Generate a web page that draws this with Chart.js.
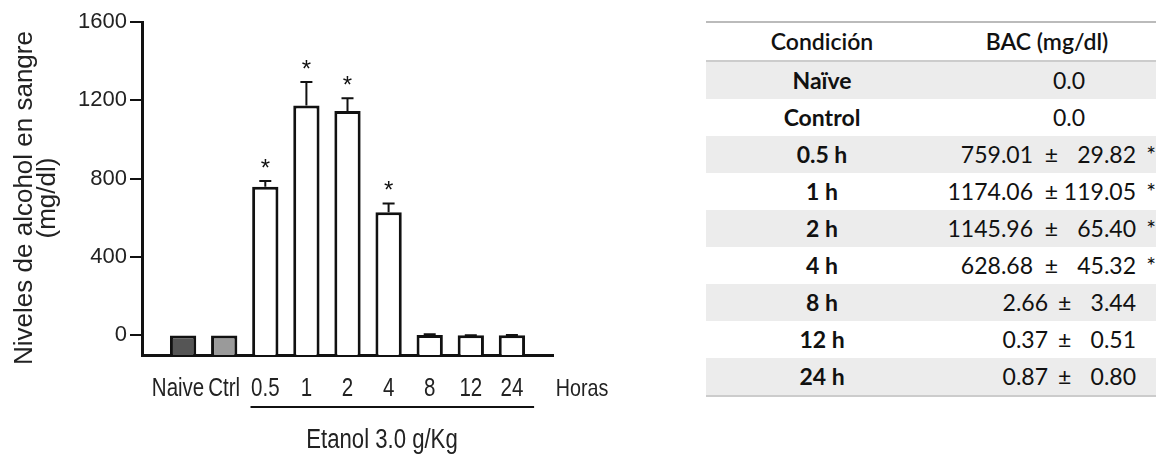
<!DOCTYPE html>
<html>
<head>
<meta charset="utf-8">
<script src="https://cdn.jsdelivr.net/npm/chart.js@4.4.1/dist/chart.umd.min.js"></script>
<style>
  body { margin: 0; background: #fff; width: 1156px; height: 456px; overflow: hidden; position: relative; }
  #wrap { position: absolute; left: 0; top: 0; width: 640px; height: 456px; }
  #tabla { position: absolute; left: 706px; top: 21px; width: 450px; border-collapse: collapse;
           font-family: Lato, "Open Sans", sans-serif; font-size: 23px; color: #111; }
  #tabla th, #tabla td { height: 37px; padding: 0; line-height: 37px; }
  #tabla thead tr { border-top: 2px solid #bbb; border-bottom: 2px solid #ccc; }
  #tabla tbody tr:last-child { border-bottom: 2px solid #ccc; }
  #tabla tbody tr:nth-child(odd) { background: #ececec; }
  #tabla th { font-weight: 600; }
  #tabla .cond { width: 232px; text-align: center; font-weight: 700; }
  #tabla .val { position: relative; }
  #tabla .val span { position: absolute; top: 0; white-space: pre; }
</style>
</head>
<body>
<div id="wrap"><canvas id="grafiek"></canvas></div>
<table id="tabla">
  <thead><tr><th>Condición</th><th>BAC (mg/dl)</th></tr></thead>
  <tbody></tbody>
</table>
<script>
// Gegevens uit de figuur
const categorieen = ['Naive', 'Ctrl', '0.5', '1', '2', '4', '8', '12', '24'];
const condiciones = ['Naïve', 'Control', '0.5 h', '1 h', '2 h', '4 h', '8 h', '12 h', '24 h'];
const gemiddelden = [0, 0, 759.01, 1174.06, 1145.96, 628.68, 2.66, 0.37, 0.87];
const sem = [null, null, 29.82, 119.05, 65.40, 45.32, 3.44, 0.51, 0.80];
const significant = [false, false, true, true, true, true, false, false, false];
const yTicks = [0, 400, 800, 1200, 1600];

const vulkleuren = ['#555555', '#9a9a9a', '#ffffff', '#ffffff', '#ffffff', '#ffffff', '#ffffff', '#ffffff', '#ffffff'];
const fontNaam = '"Liberation Sans", Arial, sans-serif';
const smal = 0.82; // horizontale compressie voor Arial Narrow-look

// Tabel opbouwen
const tbody = document.querySelector('#tabla tbody');
condiciones.forEach(function(c, i) {
    const tr = document.createElement('tr');
    const td1 = document.createElement('td');
    td1.className = 'cond';
    td1.textContent = c;
    const td2 = document.createElement('td');
    td2.className = 'val';
    if (sem[i] === null) {
        td2.innerHTML = '<span style="left:131px;transform:translateX(-50%)">' + gemiddelden[i].toFixed(1) + '</span>';
    } else {
        const breedte = significant[i] ? 6 : 5;
        const s = sem[i].toFixed(2).padStart(breedte, '\u2007');
        const rechts = significant[i] ? 123 : 108;
        let html = '<span style="right:' + rechts + 'px">' + gemiddelden[i].toFixed(2) + '</span>';
        html += '<span style="right:20px">± ' + s + '</span>';
        if (significant[i]) html += '<span style="right:0px">*</span>';
        td2.innerHTML = html;
    }
    tr.appendChild(td1);
    tr.appendChild(td2);
    tbody.appendChild(tr);
});

// smalle (Arial Narrow-achtige) tekst
function smalleTekst(ctx, tekst, x, y, grootte) {
    ctx.save();
    ctx.translate(x, y);
    ctx.scale(smal, 1);
    ctx.font = grootte + 'px ' + fontNaam;
    ctx.textAlign = 'center';
    ctx.textBaseline = 'middle';
    ctx.fillText(tekst, 0, 0);
    ctx.restore();
}

// Extra tekens: foutbalken, sterretjes, labels, titels
const extraPlugin = {
    id: 'extra',
    afterDatasetsDraw(chart) {
        const ctx = chart.ctx;
        const x = chart.scales.x;
        const y = chart.scales.y;
        ctx.save();
        ctx.strokeStyle = '#111';
        ctx.fillStyle = '#111';
        ctx.lineWidth = 2;
        for (let i = 0; i < gemiddelden.length; i++) {
            if (sem[i] === null) continue;
            const px = x.getPixelForValue(i + 1);
            const yBar = y.getPixelForValue(gemiddelden[i]);
            const yTop = y.getPixelForValue(gemiddelden[i] + sem[i]);
            ctx.beginPath();
            ctx.moveTo(px, yBar);
            ctx.lineTo(px, yTop);
            ctx.moveTo(px - 6, yTop);
            ctx.lineTo(px + 6, yTop);
            ctx.stroke();
            if (significant[i]) {
                ctx.font = '24px ' + fontNaam;
                ctx.textAlign = 'center';
                ctx.textBaseline = 'alphabetic';
                ctx.fillText('*', px, yTop - 5);
            }
        }
        // categorie-labels onder de as; schuif naar links als ze overlappen
        ctx.fillStyle = '#222';
        ctx.font = '25px ' + fontNaam;
        const breedtes = categorieen.map(c => ctx.measureText(c).width * smal);
        const midden = categorieen.map((c, i) => x.getPixelForValue(i + 1));
        for (let i = categorieen.length - 2; i >= 0; i--) {
            const grens = midden[i + 1] - breedtes[i + 1] / 2 - 4;
            if (midden[i] + breedtes[i] / 2 > grens) midden[i] = grens - breedtes[i] / 2;
        }
        categorieen.forEach((c, i) => smalleTekst(ctx, c, midden[i], 389, 25));
        smalleTekst(ctx, 'Horas', 582, 389, 24);
        smalleTekst(ctx, 'Etanol 3.0 g/Kg', 382, 441, 27);
        // lijn onder de etanol-groepen
        ctx.lineWidth = 2;
        ctx.beginPath();
        ctx.moveTo(x.getPixelForValue(2.64), 407);
        ctx.lineTo(x.getPixelForValue(9.54), 407);
        ctx.stroke();
        // y-as titel
        ctx.translate(0, 198);
        ctx.rotate(-Math.PI / 2);
        ctx.font = '26px ' + fontNaam;
        ctx.textAlign = 'center';
        ctx.textBaseline = 'middle';
        ctx.fillText('Niveles de alcohol en sangre', 0, 25);
        ctx.fillText('(mg/dl)', 0, 48);
        ctx.restore();
    }
};

new Chart(document.getElementById('grafiek').getContext('2d'), {
    type: 'bar',
    data: {
        datasets: [{
            data: gemiddelden.map((v, i) => ({ x: i + 1, y: v })),
            base: -100,
            backgroundColor: vulkleuren,
            borderColor: '#111',
            borderWidth: 3,
            borderSkipped: 'start',
            categoryPercentage: 1,
            barPercentage: 0.64
        }]
    },
    options: {
        responsive: true,
        maintainAspectRatio: false,
        animation: false,
        layout: { padding: { left: 0, top: 22, right: 87, bottom: 0 } },
        plugins: { legend: { display: false }, tooltip: { enabled: false } },
        scales: {
            x: {
                type: 'linear',
                offset: false,
                min: 0,
                max: 10,
                afterFit: s => { s.height = 101; },
                grid: { display: false, drawTicks: false },
                border: { display: true, color: '#111', width: 3 },
                ticks: { display: false, stepSize: 1 }
            },
            y: {
                min: -100,
                max: 1600,
                afterFit: s => { s.width = 142; },
                afterBuildTicks: s => { s.ticks = yTicks.map(v => ({ value: v })); },
                grid: { display: true, drawOnChartArea: false, drawTicks: true, tickLength: 12, color: '#111', lineWidth: 2 },
                border: { display: true, color: '#111', width: 3 },
                ticks: {
                    padding: 3,
                    color: '#222',
                    font: { family: fontNaam, size: 22 },
                    callback: v => String(v)
                }
            }
        }
    },
    plugins: [extraPlugin]
});
</script>
</body>
</html>
